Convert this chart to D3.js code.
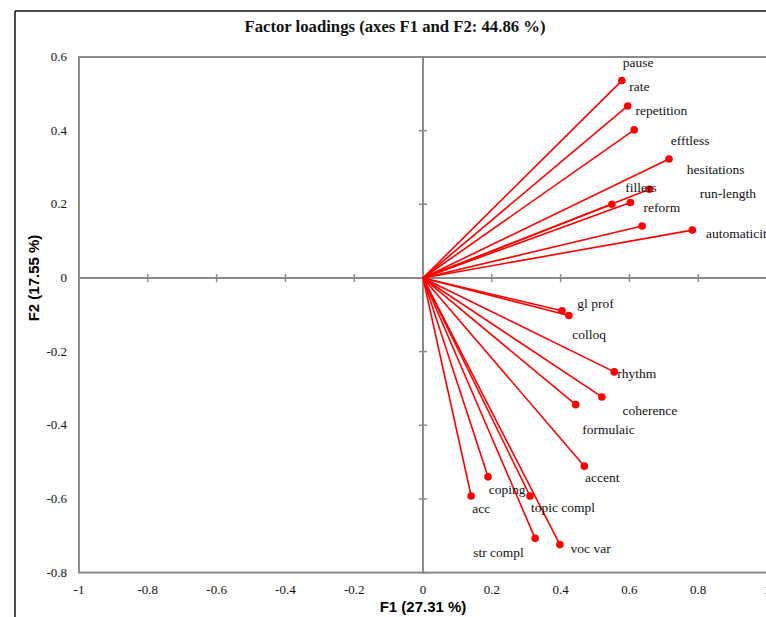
<!DOCTYPE html>
<html>
<head>
<meta charset="utf-8">
<script src="https://cdn.jsdelivr.net/npm/d3@7"></script>
<style>
  body { margin: 0; background: #fff; }
  svg { display: block; }
</style>
</head>
<body>
<div id="chart"></div>
<script>
// variables and their loadings on F1 / F2
var variables = ['pause', 'rate', 'repetition', 'efftless', 'hesitations', 'fillers', 'reform', 'run-length', 'automaticity',
  'gl prof', 'colloq', 'rhythm', 'coherence', 'formulaic', 'accent', 'coping', 'acc', 'topic compl', 'str compl', 'voc var']
var f1 = [0.578, 0.595, 0.614, 0.715, 0.658, 0.549, 0.603, 0.637, 0.783,
  0.404, 0.424, 0.556, 0.520, 0.444, 0.469, 0.189, 0.140, 0.311, 0.326, 0.398]
var f2 = [0.536, 0.467, 0.402, 0.323, 0.241, 0.200, 0.205, 0.141, 0.130,
  -0.089, -0.102, -0.255, -0.323, -0.344, -0.511, -0.540, -0.592, -0.592, -0.707, -0.724]
var xTicks = [-1, -0.8, -0.6, -0.4, -0.2, 0, 0.2, 0.4, 0.6, 0.8, 1]
var yTicks = [-0.8, -0.6, -0.4, -0.2, 0, 0.2, 0.4, 0.6]

// label placement relative to the point, in px (layout only)
var labelOffsets = [[1, -18], [1.6, -19.3], [1.4, -19], [1.7, -18.3], [37.4, -19.3], [13.3, -17], [13, 4.6], [57.7, -32.7], [13.7, 3.3],
  [15.3, -7.4], [3.3, 18.6], [3, 1.3], [20.7, 14], [6.6, 25.3], [0.7, 11.7], [0.7, 12.3], [1, 12.3], [1, 11.3], [-62, 14.4], [10.7, 4]]

var W = 766, H = 617
var svg = d3.select('#chart').append('svg').attr('width', W).attr('height', H)

var x = d3.scaleLinear().domain([-1, 1]).range([79, 767])
var y = d3.scaleLinear().domain([-0.8, 0.6]).range([572.6, 57])

var gray = '#8a8a8a'

// outer frame (only top and left visible)
svg.append('line').attr('x1', 15).attr('x2', W).attr('y1', 11).attr('y2', 11).attr('stroke', '#111').attr('stroke-width', 1.5)
svg.append('line').attr('x1', 15).attr('x2', 15).attr('y1', 11).attr('y2', H).attr('stroke', '#111').attr('stroke-width', 1.5)

svg.append('text').attr('x', 395).attr('y', 32).attr('text-anchor', 'middle')
  .style('font-family', 'Liberation Serif, serif').style('font-weight', 'bold').style('font-size', '16.7px').attr('fill', '#111')
  .text('Factor loadings (axes F1 and F2: 44.86 %)')

// plot box
svg.append('rect').attr('x', x(-1)).attr('y', y(0.6)).attr('width', x(1) - x(-1)).attr('height', y(-0.8) - y(0.6))
  .attr('fill', 'none').attr('stroke', gray).attr('stroke-width', 2)

// zero axes with tick marks
svg.append('line').attr('x1', x(-1)).attr('x2', x(1)).attr('y1', y(0)).attr('y2', y(0)).attr('stroke', gray).attr('stroke-width', 2)
svg.append('line').attr('x1', x(0)).attr('x2', x(0)).attr('y1', y(0.6)).attr('y2', y(-0.8)).attr('stroke', gray).attr('stroke-width', 2)

svg.selectAll('line.xt').data(xTicks).enter().append('line').attr('class', 'xt')
  .attr('x1', d => x(d)).attr('x2', d => x(d)).attr('y1', y(0) - 4).attr('y2', y(0) + 4)
  .attr('stroke', gray).attr('stroke-width', 1.5)
svg.selectAll('line.yt').data(yTicks).enter().append('line').attr('class', 'yt')
  .attr('x1', x(0) - 4).attr('x2', x(0) + 4).attr('y1', d => y(d)).attr('y2', d => y(d))
  .attr('stroke', gray).attr('stroke-width', 1.5)

// tick labels
var tickFont = 'Liberation Serif, serif'
svg.selectAll('text.xl').data(xTicks).enter().append('text').attr('class', 'xl')
  .attr('x', d => x(d)).attr('y', 594).attr('text-anchor', 'middle')
  .style('font-family', tickFont).style('font-size', '13px').attr('fill', '#111')
  .text(d => d3.format('')(d).replace('−', '-'))
svg.selectAll('text.yl').data(yTicks).enter().append('text').attr('class', 'yl')
  .attr('x', 67).attr('y', d => y(d) + 4).attr('text-anchor', 'end')
  .style('font-family', tickFont).style('font-size', '13px').attr('fill', '#111')
  .text(d => d3.format('')(d).replace('−', '-'))

// axis titles
svg.append('text').attr('x', 423).attr('y', 612).attr('text-anchor', 'middle')
  .style('font-family', 'Liberation Sans Narrow, Liberation Sans, sans-serif').style('font-weight', 'bold').style('font-size', '15px')
  .text('F1 (27.31 %)')
svg.append('text').attr('transform', 'translate(39,278) rotate(-90)').attr('text-anchor', 'middle')
  .style('font-family', 'Liberation Sans Narrow, Liberation Sans, sans-serif').style('font-weight', 'bold').style('font-size', '15px')
  .text('F2 (17.55 %)')

var pts = variables.map((v, i) => ({ name: v, f1: f1[i], f2: f2[i], off: labelOffsets[i] }))

svg.selectAll('line.vec').data(pts).enter().append('line').attr('class', 'vec')
  .attr('x1', x(0)).attr('y1', y(0)).attr('x2', d => x(d.f1)).attr('y2', d => y(d.f2))
  .attr('stroke', '#ff0000').attr('stroke-width', 1.6)

svg.selectAll('circle').data(pts).enter().append('circle')
  .attr('cx', d => x(d.f1)).attr('cy', d => y(d.f2)).attr('r', 3.8).attr('fill', '#ff0000')

svg.selectAll('text.lab').data(pts).enter().append('text').attr('class', 'lab')
  .attr('x', d => x(d.f1) + d.off[0]).attr('y', d => y(d.f2) + d.off[1] + 4.5)
  .style('font-family', 'Liberation Serif, serif').style('font-size', '13.5px').attr('fill', '#111')
  .text(d => d.name)
</script>
</body>
</html>
